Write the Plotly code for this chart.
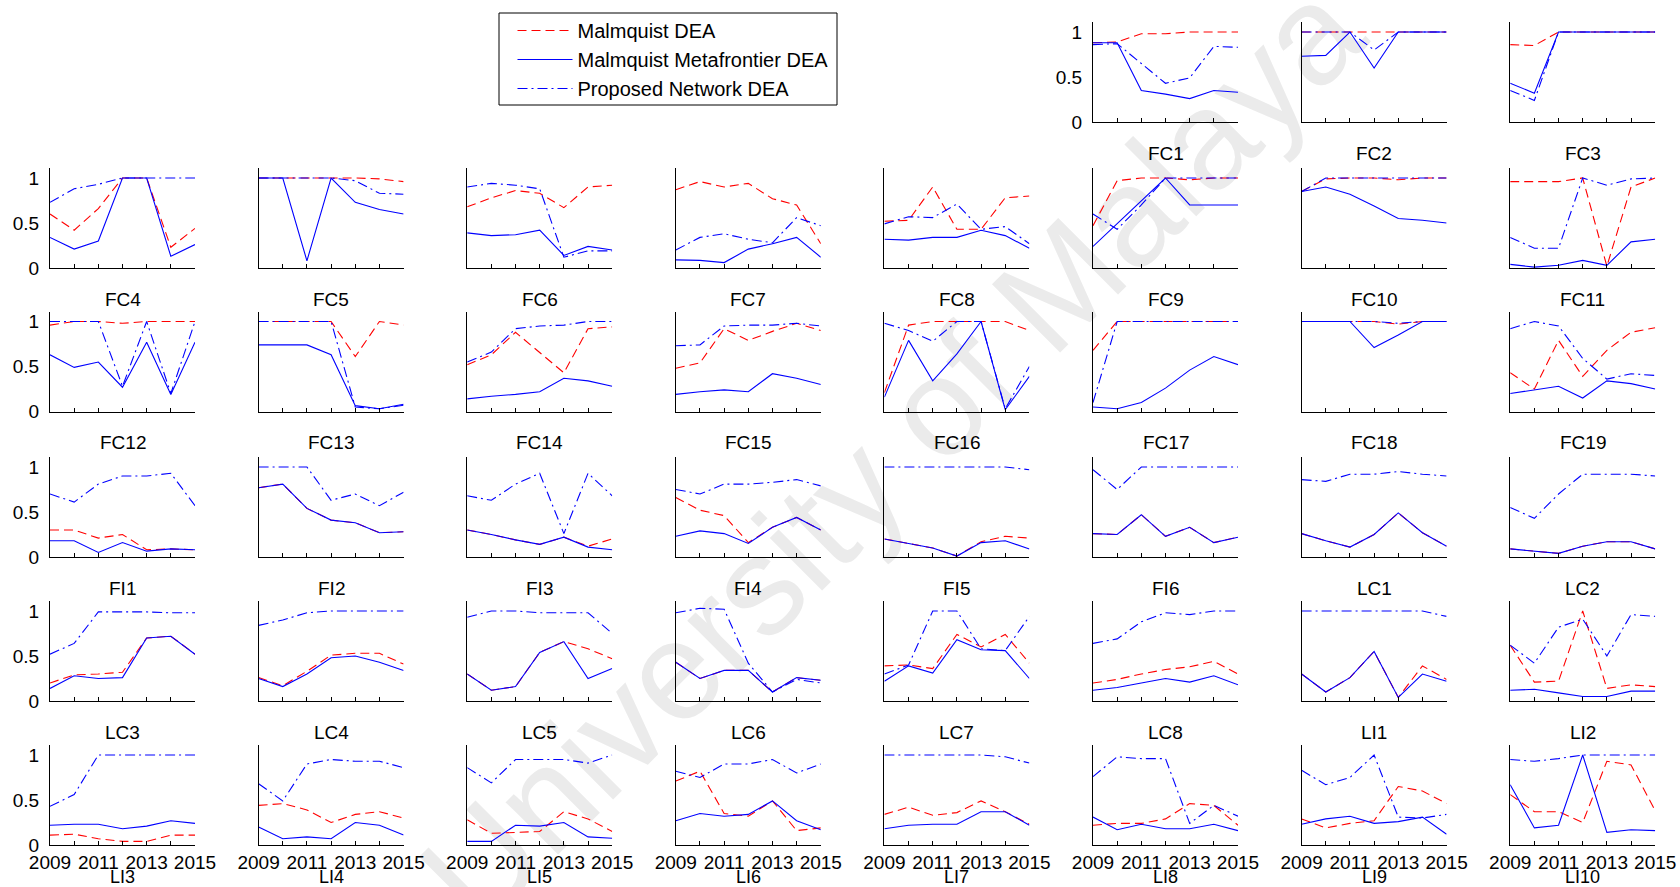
import plotly.graph_objects as go

# ---------------------------------------------------------------- data
years = [2009, 2010, 2011, 2012, 2013, 2014, 2015]

panel_names = (
    [f"FC{i}" for i in range(1, 20)]
    + [f"FI{i}" for i in range(1, 7)]
    + [f"LC{i}" for i in range(1, 9)]
    + [f"LI{i}" for i in range(1, 11)]
)

series_names = ["Malmquist DEA", "Malmquist Metafrontier DEA", "Proposed Network DEA"]

malmquist_dea = {
    "FC1": [0.88, 0.89, 0.98, 0.98, 1.0, 1.0, 1.0],
    "FC2": [1.0, 1.0, 1.0, 1.0, 1.0, 1.0, 1.0],
    "FC3": [0.86, 0.85, 1.0, 1.0, 1.0, 1.0, 1.0],
    "FC4": [0.6, 0.42, 0.66, 1.0, 1.0, 0.23, 0.44],
    "FC5": [1.0, 1.0, 1.0, 1.0, 1.0, 0.99, 0.96],
    "FC6": [0.68, 0.78, 0.86, 0.83, 0.67, 0.9, 0.92],
    "FC7": [0.87, 0.96, 0.9, 0.94, 0.77, 0.7, 0.27],
    "FC8": [0.52, 0.53, 0.9, 0.43, 0.43, 0.78, 0.8],
    "FC9": [0.47, 0.97, 1.0, 1.0, 0.98, 1.0, 1.0],
    "FC10": [0.85, 0.99, 1.0, 1.0, 0.98, 1.0, 1.0],
    "FC11": [0.96, 0.96, 0.96, 1.0, 0.02, 0.9, 1.0],
    "FC12": [0.96, 1.0, 1.0, 0.98, 1.0, 1.0, 1.0],
    "FC13": [1.0, 1.0, 1.0, 1.0, 0.61, 1.0, 0.96],
    "FC14": [0.52, 0.63, 0.88, 0.66, 0.43, 0.92, 0.94],
    "FC15": [0.48, 0.54, 0.92, 0.79, 0.89, 0.98, 0.9],
    "FC16": [0.21, 0.96, 1.0, 1.0, 1.0, 1.0, 0.9],
    "FC17": [0.68, 1.0, 1.0, 1.0, 1.0, 1.0, 1.0],
    "FC18": [1.0, 1.0, 1.0, 1.0, 0.97, 1.0, 1.0],
    "FC19": [0.43, 0.25, 0.79, 0.39, 0.68, 0.88, 0.93],
    "FI1": [0.3, 0.3, 0.21, 0.25, 0.08, 0.09, 0.08],
    "FI2": [0.77, 0.81, 0.54, 0.41, 0.38, 0.27, 0.28],
    "FI3": [0.3, 0.25, 0.19, 0.14, 0.22, 0.12, 0.2],
    "FI4": [0.66, 0.52, 0.46, 0.16, 0.33, 0.44, 0.3],
    "FI5": [0.2, 0.15, 0.1, 0.01, 0.17, 0.23, 0.21],
    "FI6": [0.26, 0.25, 0.47, 0.23, 0.33, 0.16, 0.22],
    "LC1": [0.26, 0.18, 0.11, 0.25, 0.49, 0.27, 0.12],
    "LC2": [0.09, 0.065, 0.04, 0.12, 0.17, 0.17, 0.09],
    "LC3": [0.2, 0.29, 0.3, 0.32, 0.7, 0.72, 0.52],
    "LC4": [0.26, 0.17, 0.33, 0.51, 0.53, 0.53, 0.41],
    "LC5": [0.3, 0.12, 0.16, 0.54, 0.66, 0.58, 0.47],
    "LC6": [0.43, 0.25, 0.34, 0.34, 0.1, 0.26, 0.23],
    "LC7": [0.39, 0.4, 0.36, 0.74, 0.6, 0.74, 0.42],
    "LC8": [0.2, 0.24, 0.3, 0.35, 0.38, 0.44, 0.3],
    "LI1": [0.3, 0.1, 0.26, 0.55, 0.04, 0.39, 0.24],
    "LI2": [0.62, 0.21, 0.22, 1.0, 0.14, 0.18, 0.16],
    "LI3": [0.11, 0.12, 0.07, 0.04, 0.04, 0.11, 0.11],
    "LI4": [0.44, 0.46, 0.39, 0.25, 0.34, 0.37, 0.3],
    "LI5": [0.28, 0.13, 0.14, 0.15, 0.37, 0.29, 0.15],
    "LI6": [0.71, 0.82, 0.35, 0.32, 0.49, 0.16, 0.19],
    "LI7": [0.34, 0.42, 0.33, 0.36, 0.49, 0.37, 0.23],
    "LI8": [0.22, 0.24, 0.24, 0.29, 0.46, 0.44, 0.22],
    "LI9": [0.29, 0.19, 0.24, 0.27, 0.65, 0.6, 0.46],
    "LI10": [0.56, 0.37, 0.37, 0.25, 0.93, 0.89, 0.38],
}

metafrontier_dea = {
    "FC1": [0.88, 0.88, 0.35, 0.31, 0.26, 0.35, 0.33],
    "FC2": [0.73, 0.74, 1.0, 0.6, 1.0, 1.0, 1.0],
    "FC3": [0.43, 0.32, 1.0, 1.0, 1.0, 1.0, 1.0],
    "FC4": [0.34, 0.21, 0.3, 1.0, 1.0, 0.13, 0.26],
    "FC5": [1.0, 1.0, 0.08, 1.0, 0.73, 0.65, 0.6],
    "FC6": [0.39, 0.36, 0.37, 0.42, 0.14, 0.24, 0.2],
    "FC7": [0.09, 0.085, 0.06, 0.21, 0.27, 0.34, 0.12],
    "FC8": [0.32, 0.31, 0.34, 0.34, 0.42, 0.36, 0.22],
    "FC9": [0.24, 0.49, 0.74, 1.0, 0.7, 0.7, 0.7],
    "FC10": [0.85, 0.9, 0.82, 0.69, 0.55, 0.53, 0.5],
    "FC11": [0.04, 0.01, 0.03, 0.085, 0.03, 0.29, 0.32],
    "FC12": [0.63, 0.49, 0.55, 0.27, 0.77, 0.19, 0.77],
    "FC13": [0.74, 0.74, 0.74, 0.63, 0.065, 0.03, 0.08],
    "FC14": [0.14, 0.17, 0.19, 0.22, 0.37, 0.34, 0.28],
    "FC15": [0.19, 0.22, 0.24, 0.22, 0.42, 0.37, 0.3],
    "FC16": [0.16, 0.79, 0.34, 0.64, 1.0, 0.02, 0.39],
    "FC17": [0.05, 0.03, 0.1, 0.26, 0.46, 0.61, 0.52],
    "FC18": [1.0, 1.0, 1.0, 0.71, 0.85, 1.0, 1.0],
    "FC19": [0.2, 0.24, 0.28, 0.15, 0.34, 0.31, 0.25],
    "FI1": [0.18, 0.18, 0.05, 0.16, 0.065, 0.09, 0.08],
    "FI2": [0.77, 0.81, 0.54, 0.41, 0.38, 0.27, 0.28],
    "FI3": [0.3, 0.25, 0.19, 0.14, 0.22, 0.11, 0.08],
    "FI4": [0.23, 0.29, 0.26, 0.15, 0.33, 0.44, 0.3],
    "FI5": [0.2, 0.15, 0.1, 0.01, 0.16, 0.18, 0.09],
    "FI6": [0.26, 0.25, 0.47, 0.23, 0.33, 0.16, 0.22],
    "LC1": [0.26, 0.18, 0.11, 0.25, 0.49, 0.27, 0.12],
    "LC2": [0.09, 0.065, 0.04, 0.12, 0.17, 0.17, 0.09],
    "LC3": [0.14, 0.28, 0.25, 0.26, 0.7, 0.72, 0.52],
    "LC4": [0.25, 0.16, 0.3, 0.48, 0.5, 0.43, 0.34],
    "LC5": [0.3, 0.12, 0.16, 0.54, 0.66, 0.25, 0.36],
    "LC6": [0.43, 0.25, 0.34, 0.34, 0.1, 0.26, 0.23],
    "LC7": [0.22, 0.39, 0.31, 0.68, 0.57, 0.56, 0.25],
    "LC8": [0.12, 0.15, 0.2, 0.25, 0.21, 0.28, 0.18],
    "LI1": [0.3, 0.1, 0.26, 0.55, 0.04, 0.3, 0.22],
    "LI2": [0.12, 0.13, 0.09, 0.05, 0.05, 0.11, 0.11],
    "LI3": [0.22, 0.23, 0.23, 0.18, 0.21, 0.27, 0.24],
    "LI4": [0.2, 0.07, 0.09, 0.07, 0.25, 0.22, 0.11],
    "LI5": [0.04, 0.04, 0.22, 0.21, 0.25, 0.09, 0.075],
    "LI6": [0.27, 0.35, 0.32, 0.34, 0.49, 0.27, 0.17],
    "LI7": [0.18, 0.22, 0.23, 0.23, 0.37, 0.37, 0.22],
    "LI8": [0.31, 0.17, 0.23, 0.18, 0.18, 0.23, 0.16],
    "LI9": [0.23, 0.29, 0.32, 0.24, 0.26, 0.31, 0.12],
    "LI10": [0.67, 0.19, 0.22, 1.0, 0.14, 0.17, 0.16],
}

network_dea = {
    "FC1": [0.86, 0.87, 0.65, 0.43, 0.49, 0.84, 0.83],
    "FC2": [1.0, 1.0, 1.0, 0.8, 1.0, 1.0, 1.0],
    "FC3": [0.35, 0.24, 1.0, 1.0, 1.0, 1.0, 1.0],
    "FC4": [0.73, 0.88, 0.93, 1.0, 1.0, 1.0, 1.0],
    "FC5": [1.0, 1.0, 1.0, 1.0, 0.97, 0.83, 0.82],
    "FC6": [0.9, 0.94, 0.92, 0.88, 0.12, 0.19, 0.19],
    "FC7": [0.2, 0.34, 0.38, 0.32, 0.28, 0.56, 0.47],
    "FC8": [0.49, 0.57, 0.56, 0.71, 0.43, 0.46, 0.27],
    "FC9": [0.6, 0.43, 0.7, 1.0, 1.0, 1.0, 1.0],
    "FC10": [0.85, 1.0, 1.0, 1.0, 1.0, 1.0, 1.0],
    "FC11": [0.34, 0.22, 0.22, 1.0, 0.92, 0.99, 1.0],
    "FC12": [1.0, 1.0, 1.0, 0.28, 1.0, 0.2, 1.0],
    "FC13": [1.0, 1.0, 1.0, 1.0, 0.05, 0.03, 0.07],
    "FC14": [0.55, 0.66, 0.92, 0.95, 0.96, 1.0, 1.0],
    "FC15": [0.73, 0.74, 0.95, 0.96, 0.96, 0.98, 0.95],
    "FC16": [0.98, 0.9, 0.78, 1.0, 1.0, 0.03, 0.5],
    "FC17": [0.1, 1.0, 1.0, 1.0, 1.0, 1.0, 1.0],
    "FC18": [1.0, 1.0, 1.0, 1.0, 0.98, 1.0, 1.0],
    "FC19": [0.92, 1.0, 0.95, 0.59, 0.36, 0.42, 0.4],
    "FI1": [0.7, 0.61, 0.81, 0.9, 0.9, 0.93, 0.57],
    "FI2": [1.0, 1.0, 1.0, 0.63, 0.7, 0.57, 0.72],
    "FI3": [0.68, 0.63, 0.81, 0.93, 0.26, 0.93, 0.68],
    "FI4": [0.75, 0.7, 0.81, 0.81, 0.83, 0.86, 0.79],
    "FI5": [1.0, 1.0, 1.0, 1.0, 1.0, 1.0, 0.97],
    "FI6": [0.97, 0.75, 1.0, 1.0, 1.0, 1.0, 1.0],
    "LC1": [0.86, 0.84, 0.92, 0.92, 0.95, 0.92, 0.9],
    "LC2": [0.55, 0.43, 0.7, 0.92, 0.92, 0.92, 0.9],
    "LC3": [0.52, 0.64, 0.99, 0.99, 0.99, 0.98, 0.98],
    "LC4": [0.84, 0.9, 0.98, 1.0, 1.0, 1.0, 1.0],
    "LC5": [0.93, 1.0, 1.0, 0.98, 0.98, 0.98, 0.75],
    "LC6": [0.98, 1.03, 1.02, 0.42, 0.1, 0.24, 0.2],
    "LC7": [0.3, 0.4, 1.0, 1.0, 0.58, 0.56, 0.94],
    "LC8": [0.64, 0.69, 0.88, 0.98, 0.96, 1.0, 1.0],
    "LI1": [1.0, 1.0, 1.0, 1.0, 1.0, 1.0, 0.94],
    "LI2": [0.62, 0.42, 0.82, 0.91, 0.5, 0.96, 0.94],
    "LI3": [0.43, 0.56, 1.0, 1.0, 1.0, 1.0, 1.0],
    "LI4": [0.68, 0.49, 0.9, 0.95, 0.93, 0.93, 0.86],
    "LI5": [0.86, 0.69, 0.95, 0.95, 0.95, 0.91, 1.0],
    "LI6": [0.82, 0.75, 0.9, 0.9, 0.95, 0.8, 0.9],
    "LI7": [1.0, 1.0, 1.0, 1.0, 1.0, 0.98, 0.91],
    "LI8": [0.76, 0.98, 0.96, 0.96, 0.24, 0.44, 0.32],
    "LI9": [0.83, 0.67, 0.75, 1.0, 0.31, 0.3, 0.34],
    "LI10": [0.95, 0.93, 0.96, 1.0, 1.0, 1.0, 1.0],
}

x_tick_labels = ["2009", "", "2011", "", "2013", "", "2015"]
y_tick_values = [0, 0.5, 1]
y_tick_labels = ["0", "0.5", "1"]

# ---------------------------------------------------------------- layout
W, H = 1680, 887
FONT = "Liberation Sans, Arial, sans-serif"
col_left = [50 + 208.6 * i for i in range(8)]      # px, left edge of each column
panel_w = 145                                       # px
row_zero = [122, 268, 411.5, 557, 701, 845]         # px, y of the zero line per row
panel_h = 100                                       # px, axis height (0 .. 1.11)

# first row only fills the three right-most columns
slots = [(0, 5), (0, 6), (0, 7)] + [(r, c) for r in range(1, 6) for c in range(8)]

styles = [
    dict(color="#ff0000", width=1.1, dash="9px,5px"),
    dict(color="#0000ff", width=1.1),
    dict(color="#0000ff", width=1.1, dash="10px,4px,2px,4px"),
]
datasets = [malmquist_dea, metafrontier_dea, network_dea]

fig = go.Figure()
layout = {}
annotations = []

for k, name in enumerate(panel_names):
    r, c = slots[k]
    sfx = "" if k == 0 else str(k + 1)
    x0 = col_left[c] / W
    x1 = (col_left[c] + panel_w) / W
    y0 = 1 - row_zero[r] / H
    y1 = 1 - (row_zero[r] - panel_h) / H

    for s, (data, style) in enumerate(zip(datasets, styles)):
        fig.add_trace(go.Scatter(
            x=years, y=data[name], mode="lines", line=style,
            name=series_names[s], legendgroup=series_names[s],
            showlegend=(k == 0), xaxis="x" + sfx, yaxis="y" + sfx,
            hoverinfo="skip",
        ))

    bottom = (r == 5)
    layout["xaxis" + sfx] = dict(
        domain=[x0, x1], anchor="y" + sfx, range=[2009, 2015],
        automargin=False,
        showline=True, linecolor="black", linewidth=1, mirror=False,
        ticks="inside", ticklen=4, tickcolor="black", tickwidth=1,
        tickvals=years, ticktext=x_tick_labels, showticklabels=bottom,
        tickfont=dict(family=FONT, size=19, color="black"),
        showgrid=False, zeroline=False, fixedrange=True,
    )
    layout["yaxis" + sfx] = dict(
        domain=[y0, y1], anchor="x" + sfx, range=[0, 1.111],
        automargin=False,
        showline=True, linecolor="black", linewidth=1, mirror=False,
        ticks="", tickvals=y_tick_values, ticktext=y_tick_labels,
        showticklabels=(c == 0 or k == 0), ticklabelstandoff=6,
        tickfont=dict(family=FONT, size=19, color="black"),
        showgrid=False, zeroline=False, fixedrange=True,
    )

    # panel caption below each axis; the bottom row sits under the year labels
    cap_px = row_zero[r] + (31.5 if bottom else 31)
    annotations.append(dict(
        text=name, xref="paper", yref="paper",
        x=(col_left[c] + panel_w / 2) / W, y=1 - cap_px / H,
        xanchor="center", yanchor="middle", showarrow=False,
        font=dict(family=FONT, size=18 if bottom else 19, color="black"),
    ))

# legend frame (drawn as a shape so the key can sit inset from the border)
legend_box = dict(x0=499, x1=837, y0=13, y1=105)

fig.update_layout(
    width=W, height=H, autosize=False,
    margin=dict(l=0, r=0, t=0, b=0, autoexpand=False),
    paper_bgcolor="white", plot_bgcolor="rgba(0,0,0,0)",
    annotations=annotations,
    legend=dict(
        x=512.5 / W, y=1 - 11 / H, xanchor="left", yanchor="top",
        borderwidth=0, bgcolor="rgba(0,0,0,0)",
        font=dict(family=FONT, size=20, color="black"),
        itemwidth=55, tracegroupgap=0,
    ),
    shapes=[
        dict(
            type="rect", xref="paper", yref="paper", layer="below",
            x0=0.2, x1=0.85, y0=0.0, y1=1.0, line=dict(width=0),
            fillcolor="rgba(0,0,0,0)",
            label=dict(text="University of Malaya", textangle=-45,
                       textposition="middle center",
                       font=dict(family=FONT, size=140, color="#ebebeb")),
        ),
        dict(
            type="rect", xref="paper", yref="paper", layer="above",
            x0=legend_box["x0"] / W, x1=legend_box["x1"] / W,
            y0=1 - legend_box["y1"] / H, y1=1 - legend_box["y0"] / H,
            line=dict(color="black", width=1), fillcolor="white",
        ),
    ],
    **layout,
)

fig.write_html("out.html")
